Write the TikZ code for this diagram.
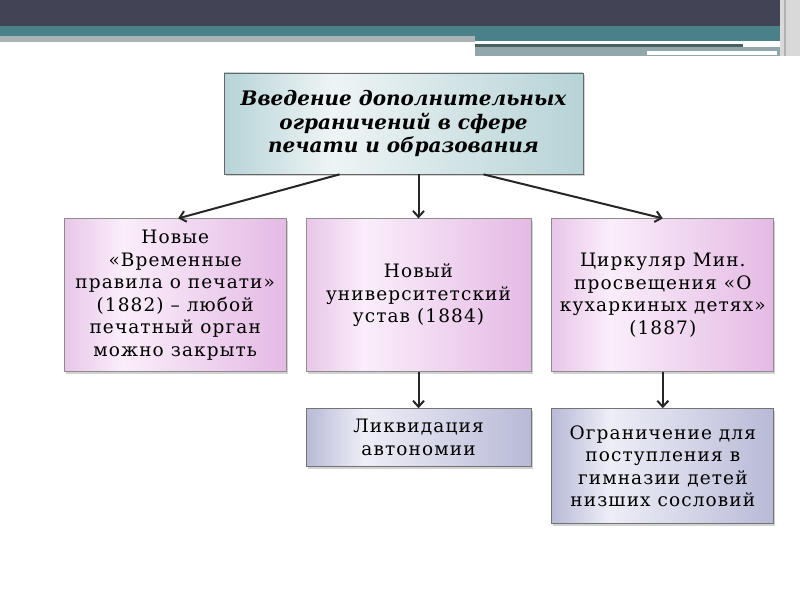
\documentclass[tikz,border=0pt]{standalone}
\usepackage{fontspec}
\setmainfont{DejaVu Serif}
\usetikzlibrary{positioning,arrows.meta,shadows}

\definecolor{barDark}{RGB}{67,67,86}
\definecolor{barTeal}{RGB}{74,128,136}
\definecolor{barGray}{RGB}{169,179,181}
\definecolor{barLine}{RGB}{77,96,96}
\definecolor{barLight}{RGB}{146,167,171}
\definecolor{tealA}{RGB}{183,211,214}
\definecolor{tealL}{RGB}{238,244,245}
\definecolor{pinkA}{RGB}{228,186,228}
\definecolor{pinkB}{RGB}{232,198,232}
\definecolor{pinkL}{RGB}{250,238,250}
\definecolor{blueA}{RGB}{184,186,214}
\definecolor{blueL}{RGB}{238,238,247}

\pgfdeclarehorizontalshading{tealshade}{100bp}{color(0bp)=(tealA); color(25bp)=(tealA); color(40bp)=(tealL); color(75bp)=(tealA); color(100bp)=(tealA)}
\pgfdeclarehorizontalshading{pinkshade}{100bp}{color(0bp)=(pinkB); color(25bp)=(pinkB); color(38bp)=(pinkL); color(75bp)=(pinkA); color(100bp)=(pinkA)}
\pgfdeclarehorizontalshading{blueshade}{100bp}{color(0bp)=(blueA); color(25bp)=(blueA); color(38bp)=(blueL); color(75bp)=(blueA); color(100bp)=(blueA)}

\begin{document}
\begin{tikzpicture}[x=1pt,y=1pt,node distance=44pt]
        \tikzstyle{box} = [rectangle, draw=black!45, line width=0.8pt, align=center, inner sep=1pt,
                           font=\fontsize{18.5}{22.5}\selectfont\addfontfeature{LetterSpace=6},
                           drop shadow={shadow xshift=1.5pt, shadow yshift=-2pt, opacity=0.35}]
        \tikzstyle{headbox} = [box, shading=tealshade, draw=black!60, minimum width=359pt, minimum height=101pt,
                               font=\fontsize{20}{23.5}\selectfont\bfseries\itshape]
        \tikzstyle{pinkbox} = [box, shading=pinkshade, minimum width=222pt, minimum height=153pt]
        \tikzstyle{bluebox} = [box, shading=blueshade, draw=black!55, minimum width=222pt]
        \tikzstyle{arr} = [-{Straight Barb[length=6pt,width=11pt]}, line width=2pt, black!85]

        % top bar
        \useasboundingbox (0,0) rectangle (800,600);
        \fill[white] (0,0) rectangle (800,600);
        \fill[barDark] (0,600) rectangle (780,574);
        \fill[barTeal] (0,574) rectangle (780,564);
        \fill[barGray] (0,564) rectangle (475,558);
        \fill[barTeal] (475,564) rectangle (780,559);
        \fill[white] (475,558) rectangle (743,556);
        \fill[barLine] (475,556) rectangle (743,553);
        \fill[barLight] (475,553) rectangle (780,544);
        \fill[white] (647,549) rectangle (777,545);
        \fill[black!15] (780,600) rectangle (800,544);
        \fill[black!30] (784,600) rectangle (786,544);

        \node (head) [headbox] at (403.5,476.5) {Введение дополнительных\\ограничений в сфере\\печати и образования};
        \node (statute) [pinkbox, below=44pt of head, xshift=15pt, minimum width=225pt] {Новый\\университетский\\устав (1884)};
        \node (press) [pinkbox, left=19pt of statute] {Новые\\«Временные\\правила о печати»\\(1882) – любой\\печатный орган\\можно закрыть};
        \node (circular) [pinkbox, right=20pt of statute] {Циркуляр Мин.\\просвещения «О\\кухаркиных детях»\\(1887)};
        \node (autonomy) [bluebox, below=36pt of statute, minimum width=225pt, minimum height=58pt] {Ликвидация\\автономии};
        \node (limit) [bluebox, below=36pt of circular, minimum height=115pt] {Ограничение для\\поступления в\\гимназии детей\\низших сословий};

        \draw [arr] ([xshift=-64pt]head.south) -- ([xshift=3pt]press.north);
        \draw [arr] ([xshift=15pt]head.south) -- (statute.north);
        \draw [arr] ([xshift=80pt]head.south) -- (circular.north);
        \draw [arr] (statute.south) -- (autonomy.north);
        \draw [arr] (circular.south) -- (limit.north);
    \end{tikzpicture}
\end{document}
